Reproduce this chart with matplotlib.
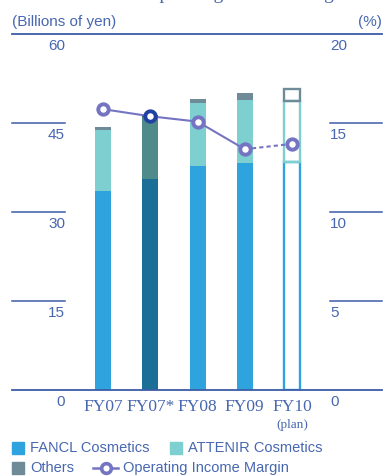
import matplotlib.pyplot as plt
import numpy as np
from matplotlib.patches import Rectangle
from matplotlib.lines import Line2D
from matplotlib.transforms import blended_transform_factory

# net sales by segment (billions of yen) and operating income margin (%)
years = ["FY07", "FY07*", "FY08", "FY09", "FY10"]
fancl = [33.5, 35.5, 37.7, 38.2, 38.3]
attenir = [10.2, 10.4, 10.6, 10.6, 10.4]
others = [0.5, 0.4, 0.7, 1.2, 1.9]
margin = [15.75, 15.35, 15.05, 13.5, 13.8]
left_ticks = [0, 15, 30, 45, 60]
right_ticks = [0, 5, 10, 15, 20]

c_fancl = "#2ea3dd"
c_attenir = "#7dcfd0"
c_others = "#6f8b97"
c_fancl_d = "#1b6e96"
c_attenir_d = "#4f8b8a"
c_others_d = "#2f5566"
c_line = "#7474c2"
c_text = "#4767b0"
c_rule = "#3d5ca8"

W, H = 384, 476
fig = plt.figure(figsize=(W / 100, H / 100), dpi=100)

def fx(px):
    return px / W

def fy(py):
    return 1 - py / H

x0, x1, y0, y1 = 12, 382, 33.5, 389.5
ax = fig.add_axes([fx(x0), fy(y1), fx(x1) - fx(x0), (y1 - y0) / H])
step = 47.25
c0 = 103
ax.set_xlim((x0 - c0) / step, (x1 - c0) / step)
ax.set_ylim(0, 60)
ax.axis("off")
ax2 = ax.twinx()
ax2.set_ylim(0, 20)
ax2.axis("off")

x = np.arange(len(years))
bw = 16 / step
for i in range(len(years)):
    if years[i] == "FY10":
        cols = [c_fancl, c_attenir, c_others]
        kw = dict(fill=False, linewidth=1.7)
    elif years[i] == "FY07*":
        cols = [c_fancl_d, c_attenir_d, c_others_d]
        kw = dict(linewidth=0)
    else:
        cols = [c_fancl, c_attenir, c_others]
        kw = dict(linewidth=0)
    b = 0
    for val, col in zip([fancl[i], attenir[i], others[i]], cols):
        if kw.get("fill", True):
            ax.bar(x[i], val, bw, bottom=b, color=col, **kw)
        else:
            ax.bar(x[i], val, bw, bottom=b, edgecolor=col, **kw)
        b += val

# margin line: solid for actuals, dashed towards the plan
ax2.plot(x[:4], margin[:4], color=c_line, lw=1.5, zorder=3)
ax2.plot(x[3:], margin[3:], color=c_line, lw=1.5, ls=(0, (2, 1.5)), zorder=3)
for i in range(len(years)):
    mc = "#1f42a0" if years[i] == "FY07*" else c_line
    ax2.plot(x[i], margin[i], "o", ms=7.5, mfc="white", mec=mc, mew=2.8, zorder=4)

# rules
tl = blended_transform_factory(ax.transAxes, ax.transData)
tr = blended_transform_factory(ax2.transAxes, ax2.transData)
ax.plot([0, 1], [60, 60], color=c_rule, lw=1.3, transform=tl, clip_on=False)
ax.plot([0, 1], [0, 0], color=c_rule, lw=1.3, transform=tl, clip_on=False)
lw_end = (65 - x0) / (x1 - x0)
rw_start = (330 - x0) / (x1 - x0)
for t in left_ticks[1:-1]:
    ax.plot([0, lw_end], [t, t], color=c_rule, lw=1.1, transform=tl, clip_on=False)
for t in right_ticks[1:-1]:
    ax2.plot([rw_start, 1], [t, t], color=c_rule, lw=1.1, transform=tr, clip_on=False)

for t in left_ticks:
    ax.annotate(str(t), (lw_end, t), xycoords=tl, xytext=(0, -4), textcoords="offset points",
                ha="right", va="top", fontsize=11, color=c_text, family="Liberation Sans")
for t in right_ticks:
    ax2.annotate(str(t), (rw_start, t), xycoords=tr, xytext=(0, -4), textcoords="offset points",
                 ha="left", va="top", fontsize=11, color=c_text, family="Liberation Sans")

for i, yr in enumerate(years):
    ax.annotate(yr, (x[i], 0), xytext=(0, -7), textcoords="offset points", ha="center",
                va="top", fontsize=12.5, color=c_text, family="Liberation Serif")
ax.annotate("(plan)", (x[-1], 0), xytext=(0, -21), textcoords="offset points", ha="center",
            va="top", fontsize=9.5, color=c_text, family="Liberation Serif")

fig.text(fx(12), fy(22), "(Billions of yen)", ha="left", va="center", fontsize=11,
         color=c_text, family="Liberation Sans")
fig.text(fx(382), fy(22), "(%)", ha="right", va="center", fontsize=11,
         color=c_text, family="Liberation Sans")
fig.text(fx(33), fy(-1), "Net Sales and Operating Income Margin", ha="left", va="baseline",
         fontsize=14, color=c_text, family="Liberation Serif")

# legend
def swatch(px, py, col, label):
    fig.patches.append(Rectangle((fx(px), fy(py + 6)), 12 / W, 12 / H, color=col,
                                 transform=fig.transFigure))
    fig.text(fx(px + 18), fy(py), label, ha="left", va="center", fontsize=10.5,
             color=c_text, family="Liberation Sans")

swatch(12, 448, c_fancl, "FANCL Cosmetics")
swatch(170, 448, c_attenir, "ATTENIR Cosmetics")
swatch(12, 468, c_others, "Others")
fig.lines.append(Line2D([fx(93), fx(118)], [fy(468), fy(468)], color=c_line, lw=1.8,
                        transform=fig.transFigure))
fig.lines.append(Line2D([fx(105.5)], [fy(468)], marker="o", ms=7, mfc="white", mec=c_line,
                        mew=2.6, transform=fig.transFigure))
fig.text(fx(123), fy(468), "Operating Income Margin", ha="left", va="center", fontsize=10.5,
         color=c_text, family="Liberation Sans")

fig.savefig("out.png", dpi=100)
